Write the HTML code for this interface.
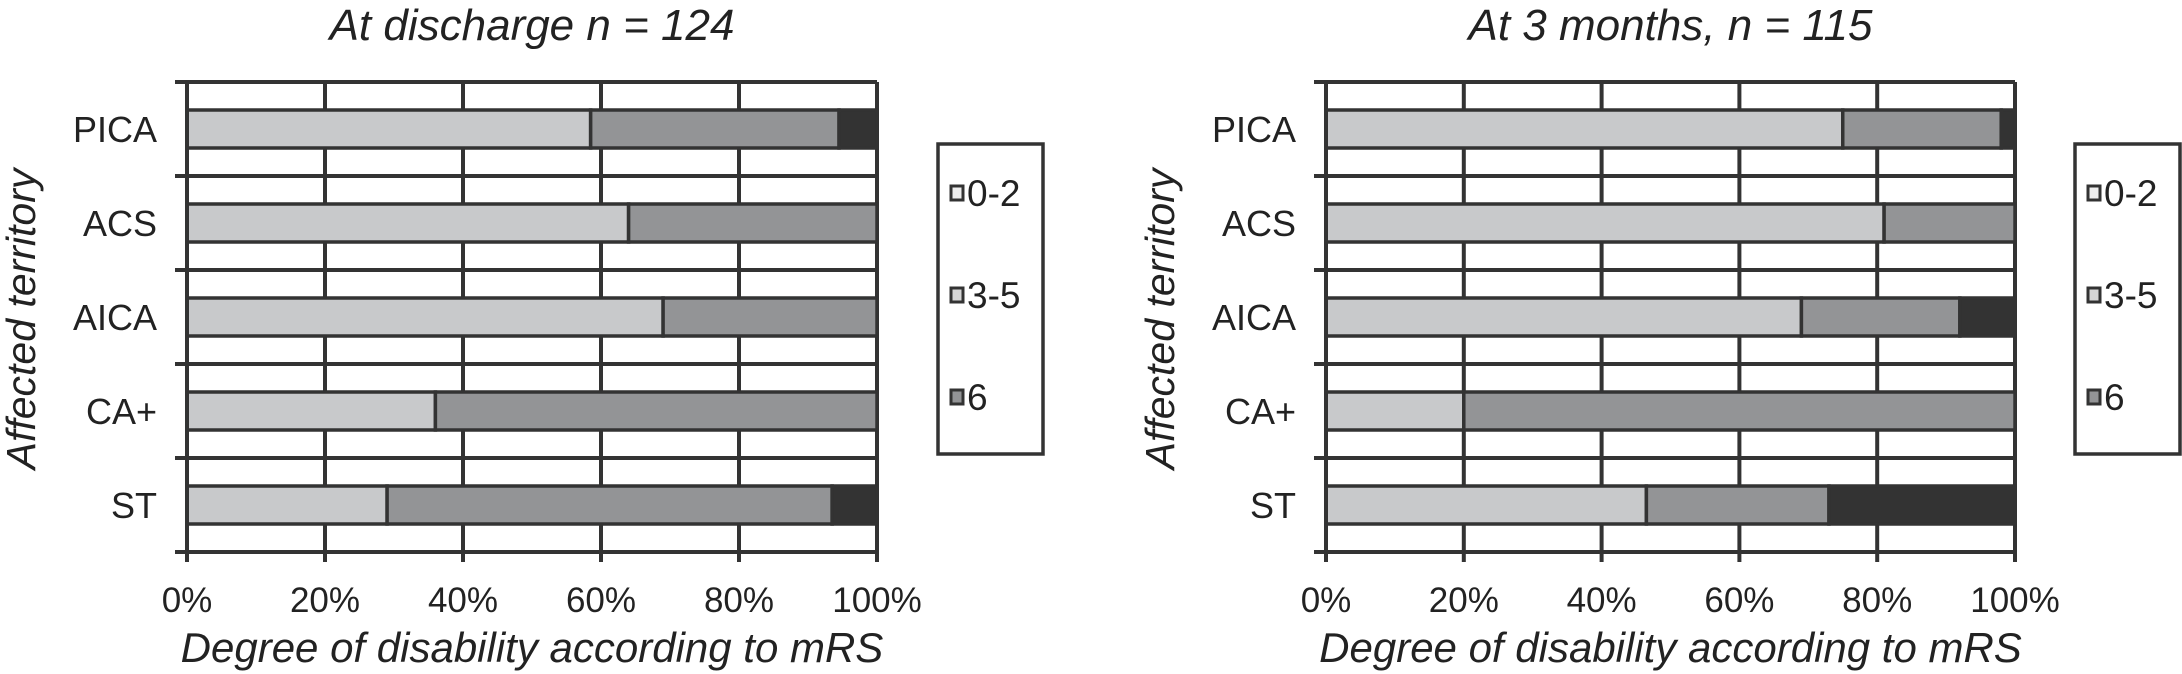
<!DOCTYPE html>
<html><head><meta charset="utf-8"><style>
body{margin:0;background:#fff;}
svg{display:block;}
text{font-family:"Liberation Sans",sans-serif;fill:#222;}
</style></head><body>
<svg id="chart" width="2182" height="674" viewBox="0 0 2182 674" xmlns="http://www.w3.org/2000/svg"></svg>
<script>
const categories = ["PICA","ACS","AICA","CA+","ST"];
const dischargeLow = [58.5,64,69,36,29];
const dischargeMid = [36,36,31,64,64.5];
const dischargeHigh = [5.5,0,0,0,6.5];
const monthsLow = [75,81,69,20,46.5];
const monthsMid = [23,19,23,80,26.5];
const monthsHigh = [2,0,8,0,27];
const xTicks = [0,20,40,60,80,100];
const legendLabels = ["0-2","3-5","6"];
const titles = ["At discharge n = 124","At 3 months, n = 115"];

const NS="http://www.w3.org/2000/svg";
const svg=document.getElementById('chart');
const colors=["#c8c9cb","#939496","#333333"];
const legendFills=["#eeeeee","#d6d6d6","#939496"];
function el(tag,attrs,parent,txt){const e=document.createElementNS(NS,tag);for(const k in attrs)e.setAttribute(k,attrs[k]);if(txt!==undefined)e.textContent=txt;(parent||svg).appendChild(e);return e;}

function drawPanel(p,x0,x1,low,mid,high,title,legX){
  const top=82,bottom=552,band=(bottom-top)/categories.length,barH=38;
  const g=el('g',{});
  
  
  const xs=v=>x0+(x1-x0)*v/100;
  const yc=i=>top+band*(i+0.5);
  const t=el('text',{x:(x0+x1)/2,y:40,'text-anchor':'middle','font-size':44,'font-style':'italic'},g,title);
  
  
  xTicks.forEach(v=>{
    const l=el('line',{x1:xs(v),x2:xs(v),y1:top,y2:bottom+10,stroke:'#333','stroke-width':4},g);
    
    
    const tl=el('text',{x:xs(v),y:612,'text-anchor':'middle','font-size':35},g,v+'%');
    
    
  });
  for(let i=0;i<=categories.length;i++){
    const y=top+band*i;
    const l=el('line',{x1:x0-12,x2:x1,y1:y,y2:y,stroke:'#333','stroke-width':4},g);
    
    
  }
  categories.forEach((c,i)=>{
    const y=yc(i);
    const lab=el('text',{x:x0-30,y:y+13,'text-anchor':'end','font-size':36},g,c);
    
    
    let acc=0;
    [low[i],mid[i],high[i]].forEach((v,k)=>{
      if(v<=0)return;
      const r=el('rect',{x:xs(acc),y:y-barH/2,width:xs(acc+v)-xs(acc),height:barH,fill:colors[k],stroke:'#333','stroke-width':3.5},g);
      
      
      acc+=v;
    });
  });
  const ax=el('line',{x1:x0,x2:x0,y1:top,y2:bottom+10,stroke:'#333','stroke-width':4},g);
  
  
  const xt=el('text',{x:(x0+x1)/2,y:662,'text-anchor':'middle','font-size':42,'font-style':'italic'},g,'Degree of disability according to mRS');
  
  
  const yt=el('text',{x:0,y:0,'text-anchor':'middle','font-size':41,'font-style':'italic',transform:`translate(${x0-152},${(top+bottom)/2+2}) rotate(-90)`},g,'Affected territory');
  
  
  const lg=el('g',{},g);
  
  
  el('rect',{x:legX,y:144,width:105,height:310,fill:'#fff',stroke:'#333','stroke-width':3.5},lg);
  legendLabels.forEach((s,k)=>{
    const y=193+k*102;
    const e=el('g',{},lg);
    
    
    el('rect',{x:legX+13,y:y-7,width:12,height:14,fill:legendFills[k],stroke:'#333','stroke-width':3},e);
    el('text',{x:legX+29,y:y+13,'font-size':37},e,s);
  });
}
drawPanel('discharge',187,877,dischargeLow,dischargeMid,dischargeHigh,titles[0],938);
drawPanel('3-months',1326,2015,monthsLow,monthsMid,monthsHigh,titles[1],2075);
</script>
</body></html>
